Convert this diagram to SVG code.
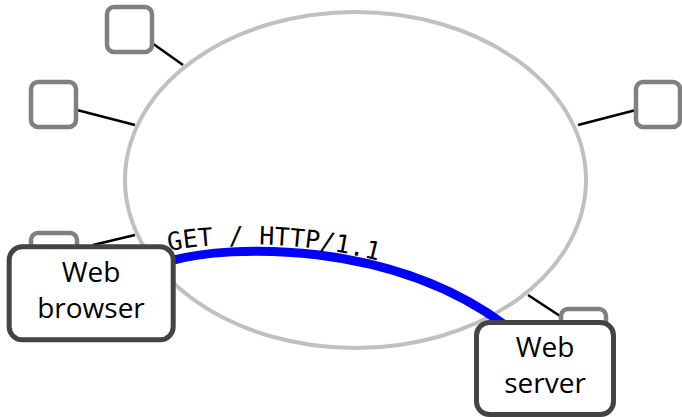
<svg xmlns="http://www.w3.org/2000/svg" width="682" height="417" viewBox="0 0 682 417">
  <defs>
    <style>
      .ring { fill: none; stroke: #c0c0c0; stroke-width: 4; }
      .link { stroke: #000; stroke-width: 2.5; fill: none; }
      .peer { fill: #fff; stroke: #808080; stroke-width: 4.5; }
      .host { fill: #fff; stroke: #444; stroke-width: 5; }
      .req { fill: none; stroke: #0000ff; stroke-width: 9; }
      .lbl { font-family: "Open Sans", "Noto Sans", sans-serif; font-size: 28px; fill: #000; text-anchor: middle; }
      .mono { font-family: "DejaVu Sans Mono", "Liberation Mono", monospace; font-size: 25px; fill: #000; }
    </style>
    <path id="labelPath" d="M169,251 C227,239 387,234 502,318"/>
  </defs>
  <rect width="682" height="417" fill="#fff"/>
  <ellipse class="ring" cx="355.5" cy="180" rx="230.5" ry="168"/>
  <g id="connectors">
    <line class="link" x1="152" y1="43" x2="183" y2="65"/>
    <line class="link" x1="77" y1="110" x2="135" y2="125"/>
    <line class="link" x1="636" y1="110" x2="578" y2="125"/>
    <line class="link" x1="93" y1="245" x2="135" y2="235"/>
    <line class="link" x1="528" y1="295" x2="560" y2="316"/>
    <path class="req" d="M170,261 C230,244 390,240 505,325"/>
    <text class="mono"><textPath href="#labelPath">GET / HTTP/1.1</textPath></text>
  </g>
  <g id="peer1"><rect class="peer" x="107" y="7" width="45" height="45" rx="7"/></g>
  <g id="peer2"><rect class="peer" x="31" y="82" width="45" height="45" rx="7"/></g>
  <g id="peer3"><rect class="peer" x="636" y="82" width="44" height="45" rx="7"/></g>
  <g id="peer4"><rect class="peer" x="31" y="233" width="46" height="45" rx="7"/></g>
  <g id="peer5"><rect class="peer" x="561" y="309" width="45" height="45" rx="7"/></g>
  <g id="browser">
    <rect class="host" x="9.2" y="246.8" width="164" height="93" rx="13"/>
    <text class="lbl" x="91" y="282">Web</text>
    <text class="lbl" x="91" y="318">browser</text>
  </g>
  <g id="server">
    <rect class="host" x="476.5" y="322.5" width="137" height="92" rx="13"/>
    <text class="lbl" x="545" y="357">Web</text>
    <text class="lbl" x="545" y="393">server</text>
  </g>
</svg>
